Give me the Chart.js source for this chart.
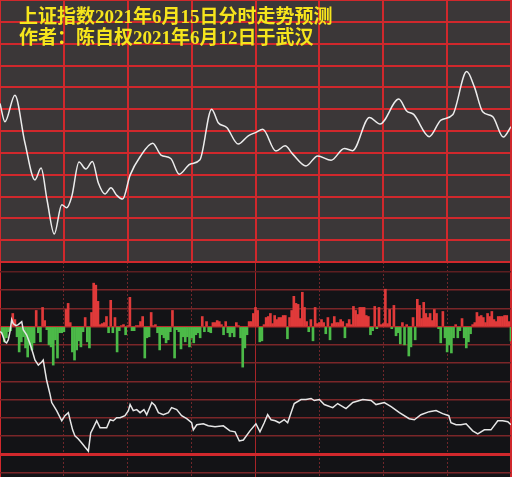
<!DOCTYPE html>
<html>
<head>
<meta charset="utf-8">
<script src="https://cdn.jsdelivr.net/npm/chart.js@4.4.0/dist/chart.umd.min.js"></script>
<style>
  html, body { margin: 0; padding: 0; background: #131316; }
  #wrap { position: relative; width: 512px; height: 477px; overflow: hidden; }
  #top { position: absolute; left: 0; top: 0; width: 512px; height: 262px; background: #3b3738; }
  #bottom { position: absolute; left: 0; top: 262px; width: 512px; height: 215px; background: #131316; }
  #title {
    position: absolute; left: 19px; top: 6px;
    color: #f6e51c;
    font: bold 19px/21px "Liberation Serif", "Noto Sans CJK SC", serif;
    white-space: pre;
  }
</style>
</head>
<body>
<div id="wrap">
  <div id="top"><canvas id="topChart"></canvas></div>
  <div id="bottom"><canvas id="bottomChart"></canvas></div>
  <div id="title">上证指数2021年6月15日分时走势预测
作者：陈自权2021年6月12日于武汉</div>
</div>
<script>
// 分时走势 (minute of session 0..240, predicted index value)
const topMinutes = [0, 2.3, 7, 11.7, 16.4, 19.3, 22.1, 25.5, 29, 31.3, 33.7, 37.1, 40.3, 43.4, 46.2, 49.3,
  52.1, 54.8, 57.6, 61.1, 65.8, 71.7, 75.6, 80.2, 84.2, 89.2, 93.9, 99.4, 102.5, 106.5, 111.9, 116.6,
  120.2, 123.4, 129.6, 133.9, 137.5, 143.7, 149.2, 155.5, 161.7, 165.6, 173.5, 178.5, 187.3, 191,
  194.3, 201.6, 207.1, 212.6, 219.2, 222.8, 226.7, 231.4, 236.4, 240];
const topValues = [3596.3, 3592.1, 3598.2, 3587.3, 3578.8, 3581.5, 3574.2, 3566.4, 3573.1, 3572.4, 3575,
  3582.9, 3581.3, 3583, 3578.1, 3575.6, 3577, 3575.3, 3574.4, 3579.9, 3584.1, 3587.2, 3584.5, 3583.7,
  3580.1, 3582.4, 3583.4, 3595, 3591.9, 3590.8, 3587, 3588.9, 3589.7, 3590.4, 3585.4, 3586.6, 3584.7,
  3582, 3584.3, 3583.3, 3586, 3585.5, 3593.1, 3591.6, 3597.3, 3594.6, 3593.8, 3588.7, 3592.5, 3593.7,
  3603.6, 3600.1, 3594.4, 3593.3, 3588.6, 3591];

// per-minute bars (positive red, negative green)
const barValues = [
  -7, -15, -11, -5, -4, 13, 7, -10, -25, -15, -10, -21, -30, -18, -23, -16, 16, -6, -15, 19,
  6, -3, -18, -20, -38, -13, -31, -6, -6, -5, 17, 23, 4, -25, -33, -23, -14, -20, -5, 9,
  -15, -21, 14, 43, 41, 25, 2, 3, 4, 10, -6, 26, -6, 9, -25, -4, 1, 2, -8, 1,
  29, -4, -4, 1, 1, 5, 10, -31, -11, -10, 14, 1, 2, -6, -23, -8, -11, -16, -13, -5,
  16, -31, -3, -5, -22, -10, -15, -10, -20, -11, -16, -8, -6, -11, 10, -5, 5, -5, -6, 4,
  4, 6, 5, 2, -8, 5, -6, -10, -6, -10, 4, 1, -11, -40, -21, -8, 5, 5, 13, 19,
  16, -15, -14, 2, 9, 10, 13, 3, 11, 7, 9, 9, 11, 11, -12, 9, 16, 30, 23, 22,
  8, 34, 19, 5, -5, 7, -14, 19, 3, 4, 7, 4, -7, 9, -13, 3, 10, 4, 4, 7,
  5, -11, 3, 7, 2, 20, 16, 12, 19, 19, 19, 11, 10, -8, -4, 20, -2, 19, 2, 3,
  37, 3, 17, -2, 21, -9, -6, -17, 4, -18, 2, -29, -20, 9, -13, 27, 21, 8, 24, 13,
  9, 13, 6, 17, 13, -2, -16, 15, -11, -25, -18, -26, -11, 2, -11, -4, 8, -11, -21, -15,
  -7, 2, 4, 14, 10, 11, 9, 4, 13, 10, 15, 7, 5, 10, 10, 10, 11, 11, 5, -14
];

// lower white line
const lowMinutes = [0, 0.8, 2.3, 3.1, 3.9, 4.7, 5.5, 6.2, 7.5, 8.6, 10.2, 10.9, 12.5, 14.1, 15.6, 16.4,
  18, 19.6, 20.3, 21.9, 23.5, 24.3, 26.6, 29, 30.5, 32.1, 32.9, 34.1, 35.2, 36.8, 38.4, 39.9, 41.5,
  42.6, 43.8, 45.4, 47, 50.1, 51.7, 53.2, 54.8, 56.4, 58.7, 60.3, 61.1, 62.6, 64.2, 65.8, 67.6, 68.9,
  71.3, 72.8, 74.4, 76.7, 79.1, 80.6, 83, 85.3, 87.7, 90, 90.8, 92.4, 95.5, 97.8, 101, 104.9, 108,
  110.4, 112.4, 114.3, 117.4, 120.2, 122.1, 124.1, 125.7, 127.3, 129.3, 131.2, 133.5, 135.1, 136.7,
  138.2, 141.4, 143.7, 146.1, 147.6, 150, 152.3, 156.3, 158.6, 162.5, 165.7, 170.4, 174.3, 176.6,
  180.5, 183.7, 187.6, 192.2, 194.6, 197.7, 201.6, 204.8, 207.9, 210.8, 211.8, 214.2, 216.5, 218.9,
  222, 224.4, 227.5, 230.6, 233.8, 236.1, 238.5, 240];
const lowValues = [-5, -6, -15, -16, -13, -5, 7, 3, 1, 2, 5, -3, -8, -17, -27, -33, -38, -35, -33, -53,
  -67, -75, -83, -93, -88, -85, -92, -102, -108, -111, -115, -119, -123, -105, -100, -93, -100, -100,
  -92, -93, -90, -90, -88, -83, -77, -83, -82, -85, -82, -87, -75, -78, -85, -87, -85, -80, -82, -88,
  -91, -95, -102, -97, -96, -98, -99, -98, -103, -104, -113, -112, -103, -96, -104, -95, -87, -92,
  -93, -95, -92, -95, -85, -76, -72, -72, -71, -73, -72, -77, -80, -76, -81, -75, -72, -73, -77, -75,
  -79, -85, -91, -92, -87, -84, -83, -86, -88, -95, -97, -97, -96, -103, -106, -102, -102, -93, -93,
  -94, -97];

const RED = '#d0282c';
const xTicks = [0, 30, 60, 90, 120, 150, 180, 210, 240];
const lowTicks = [-144, -126, -108, -90, -72, -54, -36, -18, 0, 18, 36, 54];
const lowMin = -148.6;
const lowMax = 63.9;

const tickVal = c => (c.tick ? c.tick.value : NaN);

new Chart(document.getElementById('topChart'), {
  type: 'line',
  data: {
    datasets: [{
      data: topMinutes.map((m, i) => ({ x: m, y: topValues[i] })),
      borderColor: '#ececec',
      borderWidth: 1.5,
      pointRadius: 0,
      cubicInterpolationMode: 'monotone'
    }]
  },
  options: {
    responsive: true,
    maintainAspectRatio: false,
    animation: false,
    layout: { padding: { right: 1 } },
    plugins: { legend: { display: false }, tooltip: { enabled: false } },
    scales: {
      x: {
        type: 'linear', min: 0, max: 240,
        ticks: { display: false, stepSize: 30 },
        grid: { color: RED, lineWidth: 2, drawTicks: false },
        border: { display: false }
      },
      y: {
        min: 3560, max: 3620,
        ticks: { display: false, stepSize: 5 },
        grid: { color: RED, lineWidth: 2, drawTicks: false },
        border: { display: false }
      }
    }
  }
});

new Chart(document.getElementById('bottomChart'), {
  type: 'bar',
  data: {
    datasets: [{
      type: 'line',
      data: lowMinutes.map((m, i) => ({ x: m, y: lowValues[i] })),
      borderColor: '#e6e6e6',
      borderWidth: 1.5,
      pointRadius: 0,
      tension: 0,
      order: 0
    }, {
      type: 'bar',
      data: barValues.map((v, i) => ({ x: i + 1, y: v })),
      backgroundColor: barValues.map(v => v >= 0 ? '#e03a3a' : '#4cba48'),
      barThickness: 2,
      order: 1
    }]
  },
  options: {
    responsive: true,
    maintainAspectRatio: false,
    animation: false,
    layout: { padding: { right: 1 } },
    plugins: { legend: { display: false }, tooltip: { enabled: false } },
    scales: {
      x: {
        type: 'linear', min: 0, max: 240, offset: false,
        ticks: { display: false },
        afterBuildTicks: s => { s.ticks = xTicks.map(v => ({ value: v })); },
        grid: {
          offset: false,
          drawTicks: false,
          color: c => {
            const v = tickVal(c);
            if (v === 0 || v === 240) return RED;
            if (v === 120) return '#a82428';
            return '#70262a';
          },
          lineWidth: c => {
            const v = tickVal(c);
            return (v === 0 || v === 240) ? 2 : 1;
          }
        },
        border: { display: false, dash: c => (tickVal(c) % 120 === 0 || !c.tick) ? [] : [2, 2] }
      },
      y: {
        min: lowMin, max: lowMax,
        ticks: { display: false },
        afterBuildTicks: s => { s.ticks = lowTicks.concat([lowMax]).map(v => ({ value: v })); },
        grid: {
          drawTicks: false,
          color: c => {
            const v = tickVal(c);
            if (v === lowMax || v === -126) return RED;
            if (v === 0) return '#b82a2c';
            if (v === 54) return '#5c1e20';
            return '#7a2628';
          },
          lineWidth: c => (tickVal(c) === -126 ? 3 : (tickVal(c) === lowMax ? 2 : 1.5))
        },
        border: { display: false }
      }
    }
  }
});
</script>
</body>
</html>
